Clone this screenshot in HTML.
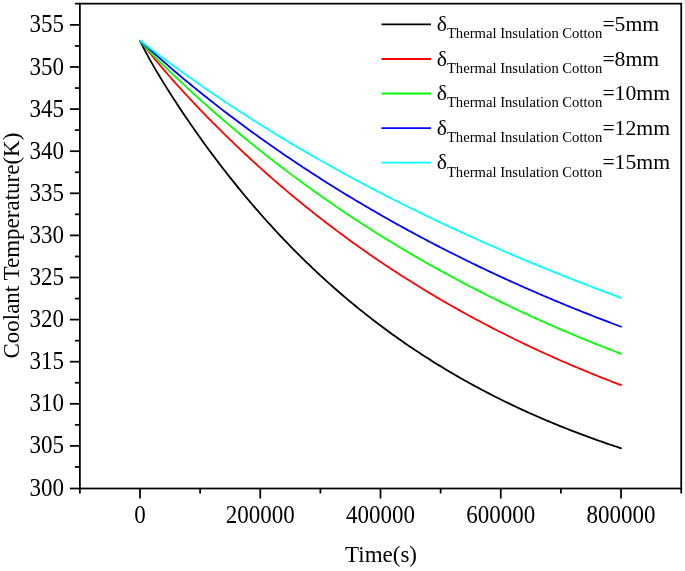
<!DOCTYPE html>
<html><head><meta charset="utf-8"><title>chart</title>
<style>html,body{margin:0;padding:0;background:#fff;}svg{display:block;will-change:transform;}text{font-family:"Liberation Serif",serif;fill:#000;}</style></head><body>
<svg width="685" height="571" viewBox="0 0 685 571">
<rect x="0" y="0" width="685" height="571" fill="#ffffff"/>
<path d="M139.80 40.30 L141.81 44.40 L143.82 48.36 L145.83 52.19 L147.83 55.93 L149.84 59.57 L151.85 63.14 L153.86 66.64 L155.87 70.09 L157.88 73.48 L159.88 76.82 L161.89 80.13 L163.90 83.40 L165.91 86.63 L167.92 89.83 L169.93 92.99 L171.93 96.13 L173.94 99.25 L175.95 102.33 L177.96 105.39 L179.97 108.43 L181.97 111.45 L183.98 114.44 L185.99 117.41 L188.00 120.35 L190.01 123.28 L192.02 126.18 L194.03 129.07 L196.03 131.93 L198.04 134.77 L200.05 137.60 L202.06 140.40 L204.07 143.18 L206.07 145.95 L208.08 148.69 L210.09 151.42 L212.10 154.12 L214.11 156.81 L216.12 159.48 L218.12 162.13 L220.13 164.76 L222.14 167.38 L224.15 169.97 L226.16 172.55 L228.17 175.11 L230.18 177.65 L232.18 180.18 L234.19 182.68 L236.20 185.17 L238.21 187.65 L240.22 190.10 L242.22 192.54 L244.23 194.96 L246.24 197.37 L248.25 199.76 L250.26 202.13 L252.27 204.48 L254.27 206.82 L256.28 209.15 L258.29 211.45 L260.30 213.75 L262.31 216.02 L264.32 218.28 L266.32 220.52 L268.33 222.75 L270.34 224.97 L272.35 227.16 L274.36 229.35 L276.37 231.51 L278.38 233.67 L280.38 235.80 L282.39 237.93 L284.40 240.03 L286.41 242.13 L288.42 244.21 L290.42 246.27 L292.43 248.32 L294.44 250.36 L296.45 252.38 L298.46 254.39 L300.47 256.38 L302.48 258.36 L304.48 260.33 L306.49 262.28 L308.50 264.22 L310.51 266.15 L312.52 268.06 L314.52 269.96 L316.53 271.85 L318.54 273.72 L320.55 275.59 L322.56 277.43 L324.57 279.27 L326.57 281.09 L328.58 282.90 L330.59 284.70 L332.60 286.48 L334.61 288.26 L336.62 290.02 L338.62 291.76 L340.63 293.50 L342.64 295.22 L344.65 296.94 L346.66 298.64 L348.67 300.33 L350.67 302.00 L352.68 303.67 L354.69 305.32 L356.70 306.96 L358.71 308.60 L360.72 310.22 L362.73 311.82 L364.73 313.42 L366.74 315.01 L368.75 316.58 L370.76 318.15 L372.77 319.70 L374.77 321.24 L376.78 322.78 L378.79 324.30 L380.80 325.81 L382.81 327.31 L384.82 328.80 L386.82 330.28 L388.83 331.75 L390.84 333.21 L392.85 334.66 L394.86 336.10 L396.87 337.53 L398.88 338.95 L400.88 340.36 L402.89 341.76 L404.90 343.15 L406.91 344.53 L408.92 345.90 L410.92 347.27 L412.93 348.62 L414.94 349.96 L416.95 351.30 L418.96 352.62 L420.97 353.94 L422.97 355.24 L424.98 356.54 L426.99 357.83 L429.00 359.11 L431.01 360.38 L433.02 361.64 L435.02 362.89 L437.03 364.14 L439.04 365.37 L441.05 366.60 L443.06 367.82 L445.07 369.03 L447.07 370.23 L449.08 371.43 L451.09 372.61 L453.10 373.79 L455.11 374.96 L457.12 376.12 L459.12 377.27 L461.13 378.42 L463.14 379.56 L465.15 380.69 L467.16 381.81 L469.17 382.92 L471.17 384.03 L473.18 385.13 L475.19 386.22 L477.20 387.30 L479.21 388.38 L481.22 389.44 L483.22 390.51 L485.23 391.56 L487.24 392.61 L489.25 393.65 L491.26 394.68 L493.27 395.70 L495.27 396.72 L497.28 397.73 L499.29 398.73 L501.30 399.73 L503.31 400.72 L505.32 401.70 L507.32 402.68 L509.33 403.65 L511.34 404.61 L513.35 405.57 L515.36 406.52 L517.37 407.46 L519.38 408.40 L521.38 409.33 L523.39 410.25 L525.40 411.17 L527.41 412.08 L529.42 412.99 L531.42 413.88 L533.43 414.78 L535.44 415.66 L537.45 416.54 L539.46 417.42 L541.47 418.28 L543.47 419.15 L545.48 420.00 L547.49 420.85 L549.50 421.70 L551.51 422.53 L553.52 423.37 L555.52 424.19 L557.53 425.01 L559.54 425.83 L561.55 426.64 L563.56 427.44 L565.57 428.24 L567.57 429.03 L569.58 429.82 L571.59 430.60 L573.60 431.38 L575.61 432.15 L577.62 432.92 L579.62 433.68 L581.63 434.43 L583.64 435.18 L585.65 435.93 L587.66 436.67 L589.67 437.40 L591.67 438.13 L593.68 438.86 L595.69 439.58 L597.70 440.29 L599.71 441.00 L601.72 441.71 L603.72 442.41 L605.73 443.10 L607.74 443.79 L609.75 444.48 L611.76 445.16 L613.77 445.83 L615.77 446.51 L617.78 447.17 L619.79 447.83 L621.80 448.49" fill="none" stroke="#000000" stroke-width="1.8" stroke-linejoin="round"/>
<path d="M139.80 40.30 L141.81 42.91 L143.82 45.48 L145.83 48.02 L147.83 50.54 L149.84 53.03 L151.85 55.49 L153.86 57.93 L155.87 60.35 L157.88 62.75 L159.88 65.13 L161.89 67.49 L163.90 69.83 L165.91 72.16 L167.92 74.47 L169.93 76.76 L171.93 79.04 L173.94 81.30 L175.95 83.55 L177.96 85.78 L179.97 88.00 L181.97 90.21 L183.98 92.40 L185.99 94.58 L188.00 96.75 L190.01 98.91 L192.02 101.06 L194.03 103.19 L196.03 105.31 L198.04 107.42 L200.05 109.52 L202.06 111.61 L204.07 113.69 L206.07 115.76 L208.08 117.82 L210.09 119.86 L212.10 121.90 L214.11 123.93 L216.12 125.94 L218.12 127.95 L220.13 129.94 L222.14 131.93 L224.15 133.91 L226.16 135.87 L228.17 137.83 L230.18 139.78 L232.18 141.71 L234.19 143.64 L236.20 145.56 L238.21 147.47 L240.22 149.37 L242.22 151.26 L244.23 153.14 L246.24 155.02 L248.25 156.88 L250.26 158.74 L252.27 160.58 L254.27 162.42 L256.28 164.25 L258.29 166.07 L260.30 167.88 L262.31 169.68 L264.32 171.47 L266.32 173.26 L268.33 175.03 L270.34 176.80 L272.35 178.56 L274.36 180.31 L276.37 182.05 L278.38 183.78 L280.38 185.51 L282.39 187.23 L284.40 188.93 L286.41 190.63 L288.42 192.33 L290.42 194.01 L292.43 195.69 L294.44 197.36 L296.45 199.02 L298.46 200.67 L300.47 202.31 L302.48 203.95 L304.48 205.58 L306.49 207.20 L308.50 208.81 L310.51 210.42 L312.52 212.01 L314.52 213.60 L316.53 215.18 L318.54 216.76 L320.55 218.33 L322.56 219.89 L324.57 221.44 L326.57 222.98 L328.58 224.52 L330.59 226.05 L332.60 227.57 L334.61 229.09 L336.62 230.60 L338.62 232.10 L340.63 233.59 L342.64 235.08 L344.65 236.55 L346.66 238.03 L348.67 239.49 L350.67 240.95 L352.68 242.40 L354.69 243.84 L356.70 245.28 L358.71 246.71 L360.72 248.14 L362.73 249.55 L364.73 250.96 L366.74 252.36 L368.75 253.76 L370.76 255.15 L372.77 256.53 L374.77 257.91 L376.78 259.28 L378.79 260.64 L380.80 262.00 L382.81 263.35 L384.82 264.69 L386.82 266.03 L388.83 267.36 L390.84 268.68 L392.85 270.00 L394.86 271.31 L396.87 272.62 L398.88 273.92 L400.88 275.21 L402.89 276.50 L404.90 277.78 L406.91 279.05 L408.92 280.32 L410.92 281.58 L412.93 282.84 L414.94 284.09 L416.95 285.33 L418.96 286.57 L420.97 287.80 L422.97 289.03 L424.98 290.25 L426.99 291.47 L429.00 292.67 L431.01 293.88 L433.02 295.07 L435.02 296.27 L437.03 297.45 L439.04 298.63 L441.05 299.81 L443.06 300.97 L445.07 302.14 L447.07 303.30 L449.08 304.45 L451.09 305.59 L453.10 306.73 L455.11 307.87 L457.12 309.00 L459.12 310.12 L461.13 311.24 L463.14 312.36 L465.15 313.47 L467.16 314.57 L469.17 315.67 L471.17 316.76 L473.18 317.85 L475.19 318.93 L477.20 320.01 L479.21 321.08 L481.22 322.15 L483.22 323.21 L485.23 324.26 L487.24 325.31 L489.25 326.36 L491.26 327.40 L493.27 328.44 L495.27 329.47 L497.28 330.50 L499.29 331.52 L501.30 332.53 L503.31 333.55 L505.32 334.55 L507.32 335.56 L509.33 336.55 L511.34 337.55 L513.35 338.53 L515.36 339.52 L517.37 340.49 L519.38 341.47 L521.38 342.44 L523.39 343.40 L525.40 344.36 L527.41 345.32 L529.42 346.27 L531.42 347.21 L533.43 348.15 L535.44 349.09 L537.45 350.02 L539.46 350.95 L541.47 351.87 L543.47 352.79 L545.48 353.71 L547.49 354.62 L549.50 355.52 L551.51 356.43 L553.52 357.32 L555.52 358.22 L557.53 359.10 L559.54 359.99 L561.55 360.87 L563.56 361.74 L565.57 362.62 L567.57 363.48 L569.58 364.35 L571.59 365.21 L573.60 366.06 L575.61 366.91 L577.62 367.76 L579.62 368.60 L581.63 369.44 L583.64 370.28 L585.65 371.11 L587.66 371.93 L589.67 372.76 L591.67 373.57 L593.68 374.39 L595.69 375.20 L597.70 376.01 L599.71 376.81 L601.72 377.61 L603.72 378.41 L605.73 379.20 L607.74 379.99 L609.75 380.77 L611.76 381.55 L613.77 382.33 L615.77 383.10 L617.78 383.87 L619.79 384.63 L621.80 385.40" fill="none" stroke="#ff0000" stroke-width="1.8" stroke-linejoin="round"/>
<path d="M139.80 40.30 L141.81 42.82 L143.82 45.18 L145.83 47.42 L147.83 49.58 L149.84 51.69 L151.85 53.75 L153.86 55.79 L155.87 57.80 L157.88 59.80 L159.88 61.78 L161.89 63.75 L163.90 65.71 L165.91 67.66 L167.92 69.60 L169.93 71.53 L171.93 73.45 L173.94 75.36 L175.95 77.27 L177.96 79.16 L179.97 81.05 L181.97 82.94 L183.98 84.81 L185.99 86.68 L188.00 88.54 L190.01 90.39 L192.02 92.23 L194.03 94.07 L196.03 95.89 L198.04 97.72 L200.05 99.53 L202.06 101.33 L204.07 103.13 L206.07 104.92 L208.08 106.71 L210.09 108.48 L212.10 110.25 L214.11 112.02 L216.12 113.77 L218.12 115.52 L220.13 117.26 L222.14 118.99 L224.15 120.72 L226.16 122.44 L228.17 124.15 L230.18 125.85 L232.18 127.55 L234.19 129.24 L236.20 130.93 L238.21 132.60 L240.22 134.27 L242.22 135.94 L244.23 137.59 L246.24 139.24 L248.25 140.89 L250.26 142.52 L252.27 144.15 L254.27 145.77 L256.28 147.39 L258.29 149.00 L260.30 150.60 L262.31 152.20 L264.32 153.79 L266.32 155.37 L268.33 156.95 L270.34 158.52 L272.35 160.08 L274.36 161.64 L276.37 163.19 L278.38 164.74 L280.38 166.28 L282.39 167.81 L284.40 169.33 L286.41 170.85 L288.42 172.37 L290.42 173.87 L292.43 175.38 L294.44 176.87 L296.45 178.36 L298.46 179.84 L300.47 181.32 L302.48 182.79 L304.48 184.25 L306.49 185.71 L308.50 187.16 L310.51 188.61 L312.52 190.05 L314.52 191.48 L316.53 192.91 L318.54 194.34 L320.55 195.75 L322.56 197.16 L324.57 198.57 L326.57 199.97 L328.58 201.36 L330.59 202.75 L332.60 204.13 L334.61 205.51 L336.62 206.88 L338.62 208.25 L340.63 209.61 L342.64 210.96 L344.65 212.31 L346.66 213.65 L348.67 214.99 L350.67 216.32 L352.68 217.65 L354.69 218.97 L356.70 220.29 L358.71 221.60 L360.72 222.90 L362.73 224.20 L364.73 225.50 L366.74 226.79 L368.75 228.07 L370.76 229.35 L372.77 230.62 L374.77 231.89 L376.78 233.15 L378.79 234.41 L380.80 235.66 L382.81 236.91 L384.82 238.15 L386.82 239.39 L388.83 240.62 L390.84 241.85 L392.85 243.07 L394.86 244.29 L396.87 245.50 L398.88 246.71 L400.88 247.91 L402.89 249.11 L404.90 250.30 L406.91 251.49 L408.92 252.67 L410.92 253.85 L412.93 255.02 L414.94 256.19 L416.95 257.35 L418.96 258.51 L420.97 259.66 L422.97 260.81 L424.98 261.96 L426.99 263.10 L429.00 264.23 L431.01 265.36 L433.02 266.49 L435.02 267.61 L437.03 268.73 L439.04 269.84 L441.05 270.94 L443.06 272.05 L445.07 273.15 L447.07 274.24 L449.08 275.33 L451.09 276.41 L453.10 277.49 L455.11 278.57 L457.12 279.64 L459.12 280.71 L461.13 281.77 L463.14 282.83 L465.15 283.88 L467.16 284.93 L469.17 285.98 L471.17 287.02 L473.18 288.06 L475.19 289.09 L477.20 290.12 L479.21 291.14 L481.22 292.16 L483.22 293.18 L485.23 294.19 L487.24 295.20 L489.25 296.20 L491.26 297.20 L493.27 298.19 L495.27 299.18 L497.28 300.17 L499.29 301.15 L501.30 302.13 L503.31 303.11 L505.32 304.08 L507.32 305.04 L509.33 306.01 L511.34 306.97 L513.35 307.92 L515.36 308.87 L517.37 309.82 L519.38 310.76 L521.38 311.70 L523.39 312.64 L525.40 313.57 L527.41 314.50 L529.42 315.42 L531.42 316.34 L533.43 317.26 L535.44 318.17 L537.45 319.08 L539.46 319.99 L541.47 320.89 L543.47 321.78 L545.48 322.68 L547.49 323.57 L549.50 324.46 L551.51 325.34 L553.52 326.22 L555.52 327.09 L557.53 327.97 L559.54 328.84 L561.55 329.70 L563.56 330.56 L565.57 331.42 L567.57 332.28 L569.58 333.13 L571.59 333.97 L573.60 334.82 L575.61 335.66 L577.62 336.50 L579.62 337.33 L581.63 338.16 L583.64 338.99 L585.65 339.81 L587.66 340.63 L589.67 341.45 L591.67 342.26 L593.68 343.07 L595.69 343.88 L597.70 344.68 L599.71 345.48 L601.72 346.28 L603.72 347.07 L605.73 347.86 L607.74 348.65 L609.75 349.43 L611.76 350.22 L613.77 350.99 L615.77 351.77 L617.78 352.54 L619.79 353.31 L621.80 354.07" fill="none" stroke="#00ff00" stroke-width="1.8" stroke-linejoin="round"/>
<path d="M139.80 40.30 L141.81 42.15 L143.82 44.00 L145.83 45.83 L147.83 47.65 L149.84 49.47 L151.85 51.28 L153.86 53.08 L155.87 54.87 L157.88 56.65 L159.88 58.42 L161.89 60.18 L163.90 61.94 L165.91 63.69 L167.92 65.43 L169.93 67.16 L171.93 68.88 L173.94 70.60 L175.95 72.31 L177.96 74.01 L179.97 75.70 L181.97 77.39 L183.98 79.07 L185.99 80.74 L188.00 82.40 L190.01 84.06 L192.02 85.71 L194.03 87.35 L196.03 88.99 L198.04 90.62 L200.05 92.24 L202.06 93.85 L204.07 95.46 L206.07 97.06 L208.08 98.66 L210.09 100.25 L212.10 101.83 L214.11 103.40 L216.12 104.97 L218.12 106.53 L220.13 108.09 L222.14 109.64 L224.15 111.18 L226.16 112.72 L228.17 114.25 L230.18 115.78 L232.18 117.29 L234.19 118.81 L236.20 120.31 L238.21 121.81 L240.22 123.31 L242.22 124.80 L244.23 126.28 L246.24 127.76 L248.25 129.23 L250.26 130.70 L252.27 132.15 L254.27 133.61 L256.28 135.06 L258.29 136.50 L260.30 137.94 L262.31 139.37 L264.32 140.80 L266.32 142.22 L268.33 143.63 L270.34 145.04 L272.35 146.45 L274.36 147.85 L276.37 149.24 L278.38 150.63 L280.38 152.01 L282.39 153.39 L284.40 154.77 L286.41 156.13 L288.42 157.50 L290.42 158.85 L292.43 160.21 L294.44 161.55 L296.45 162.90 L298.46 164.23 L300.47 165.57 L302.48 166.89 L304.48 168.22 L306.49 169.53 L308.50 170.85 L310.51 172.15 L312.52 173.46 L314.52 174.76 L316.53 176.05 L318.54 177.34 L320.55 178.62 L322.56 179.90 L324.57 181.18 L326.57 182.44 L328.58 183.71 L330.59 184.97 L332.60 186.23 L334.61 187.48 L336.62 188.72 L338.62 189.97 L340.63 191.20 L342.64 192.44 L344.65 193.67 L346.66 194.89 L348.67 196.11 L350.67 197.32 L352.68 198.53 L354.69 199.74 L356.70 200.94 L358.71 202.14 L360.72 203.33 L362.73 204.52 L364.73 205.71 L366.74 206.89 L368.75 208.06 L370.76 209.23 L372.77 210.40 L374.77 211.56 L376.78 212.72 L378.79 213.88 L380.80 215.03 L382.81 216.18 L384.82 217.32 L386.82 218.46 L388.83 219.59 L390.84 220.72 L392.85 221.85 L394.86 222.97 L396.87 224.09 L398.88 225.20 L400.88 226.31 L402.89 227.41 L404.90 228.52 L406.91 229.61 L408.92 230.71 L410.92 231.80 L412.93 232.88 L414.94 233.97 L416.95 235.04 L418.96 236.12 L420.97 237.19 L422.97 238.26 L424.98 239.32 L426.99 240.38 L429.00 241.43 L431.01 242.48 L433.02 243.53 L435.02 244.58 L437.03 245.62 L439.04 246.65 L441.05 247.68 L443.06 248.71 L445.07 249.74 L447.07 250.76 L449.08 251.78 L451.09 252.79 L453.10 253.80 L455.11 254.81 L457.12 255.81 L459.12 256.81 L461.13 257.81 L463.14 258.80 L465.15 259.79 L467.16 260.78 L469.17 261.76 L471.17 262.74 L473.18 263.71 L475.19 264.68 L477.20 265.65 L479.21 266.62 L481.22 267.58 L483.22 268.54 L485.23 269.49 L487.24 270.44 L489.25 271.39 L491.26 272.33 L493.27 273.27 L495.27 274.21 L497.28 275.14 L499.29 276.08 L501.30 277.00 L503.31 277.93 L505.32 278.85 L507.32 279.77 L509.33 280.68 L511.34 281.59 L513.35 282.50 L515.36 283.40 L517.37 284.30 L519.38 285.20 L521.38 286.10 L523.39 286.99 L525.40 287.88 L527.41 288.76 L529.42 289.64 L531.42 290.52 L533.43 291.40 L535.44 292.27 L537.45 293.14 L539.46 294.01 L541.47 294.87 L543.47 295.73 L545.48 296.59 L547.49 297.44 L549.50 298.29 L551.51 299.14 L553.52 299.99 L555.52 300.83 L557.53 301.67 L559.54 302.50 L561.55 303.34 L563.56 304.17 L565.57 304.99 L567.57 305.82 L569.58 306.64 L571.59 307.46 L573.60 308.27 L575.61 309.09 L577.62 309.90 L579.62 310.70 L581.63 311.51 L583.64 312.31 L585.65 313.11 L587.66 313.90 L589.67 314.69 L591.67 315.48 L593.68 316.27 L595.69 317.05 L597.70 317.83 L599.71 318.61 L601.72 319.39 L603.72 320.16 L605.73 320.93 L607.74 321.70 L609.75 322.46 L611.76 323.23 L613.77 323.99 L615.77 324.74 L617.78 325.50 L619.79 326.25 L621.80 327.00" fill="none" stroke="#0000ff" stroke-width="1.8" stroke-linejoin="round"/>
<path d="M139.80 40.31 L141.81 41.88 L143.82 43.43 L145.83 44.99 L147.83 46.53 L149.84 48.07 L151.85 49.60 L153.86 51.13 L155.87 52.65 L157.88 54.17 L159.88 55.68 L161.89 57.18 L163.90 58.68 L165.91 60.18 L167.92 61.66 L169.93 63.15 L171.93 64.62 L173.94 66.09 L175.95 67.56 L177.96 69.02 L179.97 70.47 L181.97 71.92 L183.98 73.36 L185.99 74.80 L188.00 76.23 L190.01 77.66 L192.02 79.08 L194.03 80.50 L196.03 81.91 L198.04 83.32 L200.05 84.72 L202.06 86.12 L204.07 87.51 L206.07 88.89 L208.08 90.27 L210.09 91.65 L212.10 93.02 L214.11 94.39 L216.12 95.75 L218.12 97.11 L220.13 98.46 L222.14 99.81 L224.15 101.15 L226.16 102.48 L228.17 103.82 L230.18 105.15 L232.18 106.47 L234.19 107.79 L236.20 109.10 L238.21 110.41 L240.22 111.72 L242.22 113.02 L244.23 114.31 L246.24 115.60 L248.25 116.89 L250.26 118.17 L252.27 119.45 L254.27 120.72 L256.28 121.99 L258.29 123.26 L260.30 124.52 L262.31 125.77 L264.32 127.03 L266.32 128.27 L268.33 129.52 L270.34 130.76 L272.35 131.99 L274.36 133.22 L276.37 134.45 L278.38 135.67 L280.38 136.89 L282.39 138.11 L284.40 139.32 L286.41 140.52 L288.42 141.72 L290.42 142.92 L292.43 144.12 L294.44 145.31 L296.45 146.49 L298.46 147.68 L300.47 148.86 L302.48 150.03 L304.48 151.20 L306.49 152.37 L308.50 153.53 L310.51 154.69 L312.52 155.85 L314.52 157.00 L316.53 158.15 L318.54 159.29 L320.55 160.43 L322.56 161.57 L324.57 162.70 L326.57 163.83 L328.58 164.96 L330.59 166.08 L332.60 167.20 L334.61 168.32 L336.62 169.43 L338.62 170.54 L340.63 171.64 L342.64 172.75 L344.65 173.84 L346.66 174.94 L348.67 176.03 L350.67 177.12 L352.68 178.20 L354.69 179.28 L356.70 180.36 L358.71 181.43 L360.72 182.51 L362.73 183.57 L364.73 184.64 L366.74 185.70 L368.75 186.76 L370.76 187.81 L372.77 188.86 L374.77 189.91 L376.78 190.95 L378.79 192.00 L380.80 193.03 L382.81 194.07 L384.82 195.10 L386.82 196.13 L388.83 197.15 L390.84 198.18 L392.85 199.20 L394.86 200.21 L396.87 201.23 L398.88 202.24 L400.88 203.24 L402.89 204.25 L404.90 205.25 L406.91 206.25 L408.92 207.24 L410.92 208.23 L412.93 209.22 L414.94 210.21 L416.95 211.19 L418.96 212.17 L420.97 213.15 L422.97 214.13 L424.98 215.10 L426.99 216.07 L429.00 217.03 L431.01 217.99 L433.02 218.95 L435.02 219.91 L437.03 220.87 L439.04 221.82 L441.05 222.77 L443.06 223.71 L445.07 224.66 L447.07 225.60 L449.08 226.54 L451.09 227.47 L453.10 228.40 L455.11 229.33 L457.12 230.26 L459.12 231.19 L461.13 232.11 L463.14 233.03 L465.15 233.94 L467.16 234.86 L469.17 235.77 L471.17 236.68 L473.18 237.58 L475.19 238.49 L477.20 239.39 L479.21 240.28 L481.22 241.18 L483.22 242.07 L485.23 242.96 L487.24 243.85 L489.25 244.74 L491.26 245.62 L493.27 246.50 L495.27 247.38 L497.28 248.25 L499.29 249.13 L501.30 250.00 L503.31 250.87 L505.32 251.73 L507.32 252.60 L509.33 253.46 L511.34 254.31 L513.35 255.17 L515.36 256.02 L517.37 256.88 L519.38 257.72 L521.38 258.57 L523.39 259.41 L525.40 260.26 L527.41 261.10 L529.42 261.93 L531.42 262.77 L533.43 263.60 L535.44 264.43 L537.45 265.26 L539.46 266.08 L541.47 266.91 L543.47 267.73 L545.48 268.55 L547.49 269.36 L549.50 270.18 L551.51 270.99 L553.52 271.80 L555.52 272.61 L557.53 273.41 L559.54 274.22 L561.55 275.02 L563.56 275.82 L565.57 276.61 L567.57 277.41 L569.58 278.20 L571.59 278.99 L573.60 279.78 L575.61 280.56 L577.62 281.35 L579.62 282.13 L581.63 282.91 L583.64 283.69 L585.65 284.46 L587.66 285.24 L589.67 286.01 L591.67 286.78 L593.68 287.54 L595.69 288.31 L597.70 289.07 L599.71 289.83 L601.72 290.59 L603.72 291.35 L605.73 292.10 L607.74 292.86 L609.75 293.61 L611.76 294.36 L613.77 295.10 L615.77 295.85 L617.78 296.59 L619.79 297.33 L621.80 298.07" fill="none" stroke="#00ffff" stroke-width="1.8" stroke-linejoin="round"/>
<g stroke="#000" stroke-width="1.75" fill="none" stroke-linecap="butt">
<rect x="79.88" y="3.65" width="601.35" height="484.85"/>
<line x1="69.88" y1="488.50" x2="79.88" y2="488.50"/>
<line x1="74.88" y1="466.95" x2="79.88" y2="466.95"/>
<line x1="69.88" y1="445.90" x2="79.88" y2="445.90"/>
<line x1="74.88" y1="424.85" x2="79.88" y2="424.85"/>
<line x1="69.88" y1="403.80" x2="79.88" y2="403.80"/>
<line x1="74.88" y1="382.75" x2="79.88" y2="382.75"/>
<line x1="69.88" y1="361.70" x2="79.88" y2="361.70"/>
<line x1="74.88" y1="340.65" x2="79.88" y2="340.65"/>
<line x1="69.88" y1="319.60" x2="79.88" y2="319.60"/>
<line x1="74.88" y1="298.55" x2="79.88" y2="298.55"/>
<line x1="69.88" y1="277.50" x2="79.88" y2="277.50"/>
<line x1="74.88" y1="256.45" x2="79.88" y2="256.45"/>
<line x1="69.88" y1="235.40" x2="79.88" y2="235.40"/>
<line x1="74.88" y1="214.35" x2="79.88" y2="214.35"/>
<line x1="69.88" y1="193.30" x2="79.88" y2="193.30"/>
<line x1="74.88" y1="172.25" x2="79.88" y2="172.25"/>
<line x1="69.88" y1="151.20" x2="79.88" y2="151.20"/>
<line x1="74.88" y1="130.15" x2="79.88" y2="130.15"/>
<line x1="69.88" y1="109.10" x2="79.88" y2="109.10"/>
<line x1="74.88" y1="88.05" x2="79.88" y2="88.05"/>
<line x1="69.88" y1="67.00" x2="79.88" y2="67.00"/>
<line x1="74.88" y1="45.95" x2="79.88" y2="45.95"/>
<line x1="69.88" y1="24.90" x2="79.88" y2="24.90"/>
<line x1="74.88" y1="3.65" x2="79.88" y2="3.65"/>
<line x1="79.88" y1="488.50" x2="79.88" y2="493.50"/>
<line x1="140.00" y1="488.50" x2="140.00" y2="498.50"/>
<line x1="200.12" y1="488.50" x2="200.12" y2="493.50"/>
<line x1="260.25" y1="488.50" x2="260.25" y2="498.50"/>
<line x1="320.38" y1="488.50" x2="320.38" y2="493.50"/>
<line x1="380.50" y1="488.50" x2="380.50" y2="498.50"/>
<line x1="440.62" y1="488.50" x2="440.62" y2="493.50"/>
<line x1="500.75" y1="488.50" x2="500.75" y2="498.50"/>
<line x1="560.88" y1="488.50" x2="560.88" y2="493.50"/>
<line x1="621.00" y1="488.50" x2="621.00" y2="498.50"/>
<line x1="681.23" y1="488.50" x2="681.23" y2="493.50"/>
</g>
<text transform="translate(63.90,495.50) scale(1,1.050)" font-size="23" text-anchor="end">300</text>
<text transform="translate(63.90,453.40) scale(1,1.050)" font-size="23" text-anchor="end">305</text>
<text transform="translate(63.90,411.30) scale(1,1.050)" font-size="23" text-anchor="end">310</text>
<text transform="translate(63.90,369.20) scale(1,1.050)" font-size="23" text-anchor="end">315</text>
<text transform="translate(63.90,327.10) scale(1,1.050)" font-size="23" text-anchor="end">320</text>
<text transform="translate(63.90,285.00) scale(1,1.050)" font-size="23" text-anchor="end">325</text>
<text transform="translate(63.90,242.90) scale(1,1.050)" font-size="23" text-anchor="end">330</text>
<text transform="translate(63.90,200.80) scale(1,1.050)" font-size="23" text-anchor="end">335</text>
<text transform="translate(63.90,158.70) scale(1,1.050)" font-size="23" text-anchor="end">340</text>
<text transform="translate(63.90,116.60) scale(1,1.050)" font-size="23" text-anchor="end">345</text>
<text transform="translate(63.90,74.50) scale(1,1.050)" font-size="23" text-anchor="end">350</text>
<text transform="translate(63.90,32.40) scale(1,1.050)" font-size="23" text-anchor="end">355</text>
<text transform="translate(139.90,522.50) scale(1,1.050)" font-size="23" text-anchor="middle">0</text>
<text transform="translate(260.15,522.50) scale(1,1.050)" font-size="23" text-anchor="middle">200000</text>
<text transform="translate(380.40,522.50) scale(1,1.050)" font-size="23" text-anchor="middle">400000</text>
<text transform="translate(500.65,522.50) scale(1,1.050)" font-size="23" text-anchor="middle">600000</text>
<text transform="translate(620.90,522.50) scale(1,1.050)" font-size="23" text-anchor="middle">800000</text>
<text x="381" y="562.4" font-size="23" text-anchor="middle">Time(s)</text>
<text transform="translate(18.8,245.6) rotate(-90)" font-size="23" text-anchor="middle">Coolant Temperature(K)</text>
<line x1="381.5" y1="24.30" x2="431.0" y2="24.30" stroke="#000000" stroke-width="1.8"/>
<text x="436.80" y="30.90" font-size="21.70">δ</text>
<text x="446.90" y="38.20" font-size="14.65">Thermal Insulation Cotton</text>
<text x="602.40" y="30.90" font-size="21.70">=5mm</text>
<line x1="381.5" y1="59.00" x2="431.0" y2="59.00" stroke="#ff0000" stroke-width="1.8"/>
<text x="436.80" y="65.60" font-size="21.70">δ</text>
<text x="446.90" y="72.90" font-size="14.65">Thermal Insulation Cotton</text>
<text x="602.40" y="65.60" font-size="21.70">=8mm</text>
<line x1="381.5" y1="93.50" x2="431.0" y2="93.50" stroke="#00ff00" stroke-width="1.8"/>
<text x="436.80" y="100.10" font-size="21.70">δ</text>
<text x="446.90" y="107.40" font-size="14.65">Thermal Insulation Cotton</text>
<text x="602.40" y="100.10" font-size="21.70">=10mm</text>
<line x1="381.5" y1="128.10" x2="431.0" y2="128.10" stroke="#0000ff" stroke-width="1.8"/>
<text x="436.80" y="134.70" font-size="21.70">δ</text>
<text x="446.90" y="142.00" font-size="14.65">Thermal Insulation Cotton</text>
<text x="602.40" y="134.70" font-size="21.70">=12mm</text>
<line x1="381.5" y1="162.60" x2="431.0" y2="162.60" stroke="#00ffff" stroke-width="1.8"/>
<text x="436.80" y="169.20" font-size="21.70">δ</text>
<text x="446.90" y="176.50" font-size="14.65">Thermal Insulation Cotton</text>
<text x="602.40" y="169.20" font-size="21.70">=15mm</text>
</svg></body></html>
